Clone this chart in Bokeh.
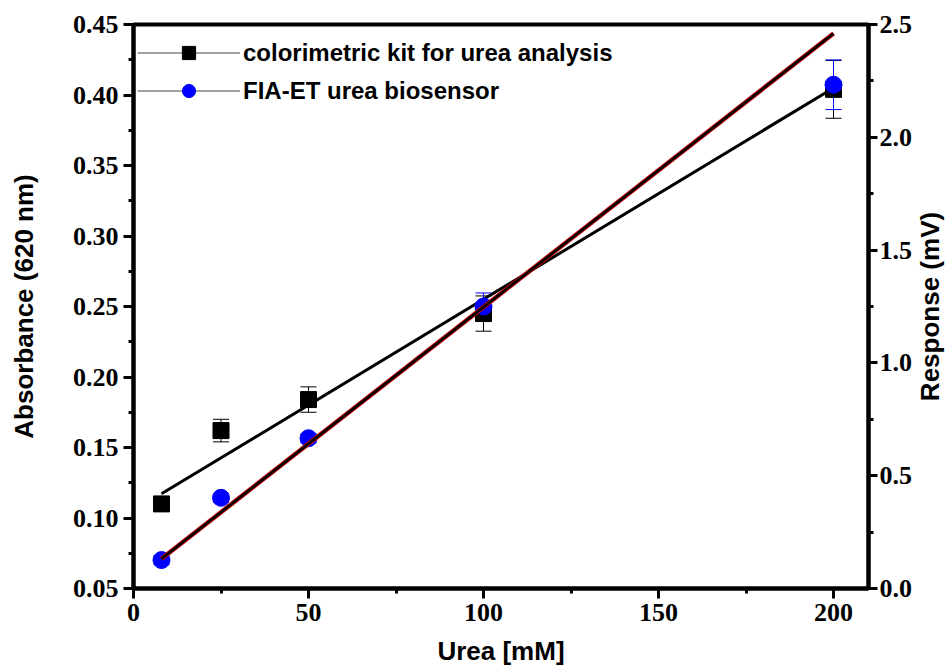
import math
import numpy as np
from bokeh.plotting import figure
from bokeh.models import (Range1d, LinearAxis, FixedTicker, PrintfTickFormatter,
                          ColumnDataSource, Whisker, TeeHead, Legend, LegendItem, Label)
from bokeh.embed import file_html
from bokeh.resources import INLINE

# ---------------- data ----------------
urea = [8, 25, 50, 100, 200]                       # Urea [mM]
absorbance = [0.110, 0.162, 0.184, 0.245, 0.404]   # colorimetric kit, left axis
abs_err = [0.004, 0.008, 0.009, 0.0125, 0.0205]
response = [0.126, 0.402, 0.666, 1.250, 2.233]     # FIA-ET biosensor, right axis (mV)
resp_err = [0.02, 0.02, 0.02, 0.06, 0.11]

fit_x = [8, 200]
abs_fit = [0.1172, 0.405]     # linear fit drawn for the colorimetric kit
resp_fit = [0.132, 2.460]     # linear fit drawn for the biosensor

x_ticks = [0, 50, 100, 150, 200]
x_minor = [25, 75, 125, 175]
abs_ticks = [0.05, 0.10, 0.15, 0.20, 0.25, 0.30, 0.35, 0.40, 0.45]
abs_minor = [0.075, 0.125, 0.175, 0.225, 0.275, 0.325, 0.375, 0.425]
resp_ticks = [0.0, 0.5, 1.0, 1.5, 2.0, 2.5]
resp_minor = [0.25, 0.75, 1.25, 1.75, 2.25]

label_kit = "colorimetric kit for urea analysis"
label_bio = "FIA-ET urea biosensor"

# ---------------- figure ----------------
p = figure(width=946, height=669, output_backend="svg", toolbar_location=None,
           x_range=Range1d(0, 210), y_range=Range1d(0.05, 0.45),
           min_border_left=133, min_border_right=78, min_border_top=24, min_border_bottom=81)
p.extra_y_ranges = {"resp": Range1d(0, 2.5)}
p.grid.visible = False
p.outline_line_color = "black"
p.outline_line_width = 4
p.outline_line_alpha = 1
p.background_fill_color = "white"
p.border_fill_color = "white"

right_axis = LinearAxis(y_range_name="resp")
p.add_layout(right_axis, "right")

SERIF = "Liberation Serif"
SANS = "Liberation Sans"


def style_axis(ax, ticks, minor, fmt):
    ax.ticker = FixedTicker(ticks=ticks, minor_ticks=minor)
    ax.formatter = PrintfTickFormatter(format=fmt)
    ax.axis_line_width = 4
    ax.axis_line_color = "black"
    ax.major_tick_line_width = 3
    ax.minor_tick_line_width = 3
    ax.major_tick_out = 10
    ax.major_tick_in = 0
    ax.minor_tick_out = 5
    ax.minor_tick_in = 0
    ax.major_label_text_font = SERIF
    ax.major_label_text_font_style = "bold"
    ax.major_label_text_font_size = "26px"
    ax.major_label_text_color = "black"
    ax.major_label_standoff = 5
    ax.axis_label_text_font = SANS
    ax.axis_label_text_font_style = "bold"
    ax.axis_label_text_font_size = "26px"
    ax.axis_label_text_color = "black"


style_axis(p.xaxis[0], x_ticks, x_minor, "%d")
style_axis(p.yaxis[0], abs_ticks, abs_minor, "%.2f")
style_axis(right_axis, resp_ticks, resp_minor, "%.1f")
p.xaxis[0].axis_label = "Urea [mM]"
p.xaxis[0].axis_label_standoff = 12
p.yaxis[0].axis_label = "Absorbance (620 nm)"
p.yaxis[0].axis_label_standoff = 31

right_axis.major_tick_out = 9
right_axis.major_label_standoff = 2

# right-axis title, reading bottom-to-top, placed in a side panel beyond the right axis
resp_title = Label(x=14, y=282, x_units="screen", y_units="screen",
                   text="Response (mV)", angle=math.pi / 2,
                   text_align="center", text_baseline="middle",
                   text_font=SANS, text_font_style="bold",
                   text_font_size="26px", text_color="black")
p.add_layout(resp_title, "right")

# ---------------- sources ----------------
src_kit = ColumnDataSource(dict(
    x=urea, y=absorbance,
    lo=list(np.array(absorbance) - np.array(abs_err)),
    hi=list(np.array(absorbance) + np.array(abs_err))))
src_bio = ColumnDataSource(dict(
    x=urea, y=response,
    lo=list(np.array(response) - np.array(resp_err)),
    hi=list(np.array(response) + np.array(resp_err))))

# error bars
wk = Whisker(source=src_kit, base="x", upper="hi", lower="lo", line_color="black", line_width=1,
             upper_head=TeeHead(size=16, line_color="black", line_width=1),
             lower_head=TeeHead(size=16, line_color="black", line_width=1))
wb = Whisker(source=src_bio, base="x", upper="hi", lower="lo", line_color="blue", line_width=1,
             y_range_name="resp",
             upper_head=TeeHead(size=16, line_color="blue", line_width=1),
             lower_head=TeeHead(size=16, line_color="blue", line_width=1))
p.add_layout(wk)
p.add_layout(wb)

# markers and fits
sq_r = p.scatter("x", "y", source=src_kit, marker="square", size=16,
                 fill_color="black", line_color="black")
p.line(fit_x, abs_fit, line_color="black", line_width=3)
ci_r = p.scatter("x", "y", source=src_bio, marker="circle", size=17,
                 fill_color="blue", line_color="blue", y_range_name="resp")
p.line(fit_x, resp_fit, line_color="#c00000", line_width=4.5, y_range_name="resp")
p.line(fit_x, resp_fit, line_color="black", line_width=2.5, y_range_name="resp")

# legend (thin line + marker)
leg_l1 = p.line([np.nan], [np.nan], line_color="#444444", line_width=1)
leg_l2 = p.line([np.nan], [np.nan], line_color="#444444", line_width=1)
legend = Legend(items=[LegendItem(label=label_kit, renderers=[leg_l1, sq_r]),
                       LegendItem(label=label_bio, renderers=[leg_l2, ci_r])],
                location=(0, 477), margin=0, padding=4, spacing=5,
                glyph_width=103, glyph_height=33, label_standoff=3,
                label_text_font=SANS, label_text_font_style="bold",
                label_text_font_size="24px", label_text_color="black",
                background_fill_alpha=0, border_line_alpha=0)
p.add_layout(legend)

open("out.html", "w").write(file_html(p, INLINE))
